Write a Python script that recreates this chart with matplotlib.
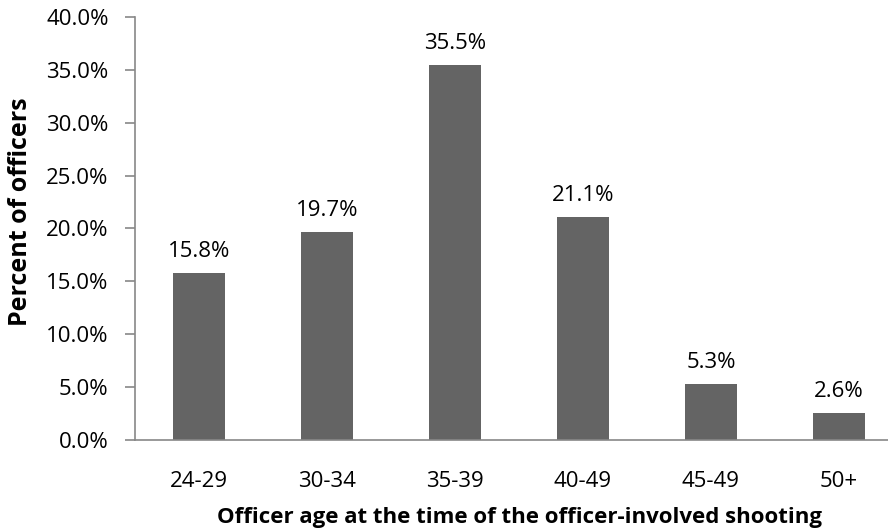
import matplotlib
matplotlib.use("Agg")
import matplotlib.pyplot as plt

age_groups = ["24-29", "30-34", "35-39", "40-49", "45-49", "50+"]
percent_officers = [15.8, 19.7, 35.5, 21.1, 5.3, 2.6]
y_ticks = [0, 5, 10, 15, 20, 25, 30, 35, 40]

plt.rcParams["font.family"] = ["Open Sans", "DejaVu Sans"]

fig = plt.figure(figsize=(8.88, 5.31), dpi=100)
# axes run a little past the right edge of the figure, like the original
ax = fig.add_axes([135 / 888, 91 / 531, 768 / 888, 423 / 531])

x = range(len(age_groups))
bars = ax.bar(x, percent_officers, width=0.406, color="#646464", zorder=2)
for b, v in zip(bars, percent_officers):
    ax.text(b.get_x() + b.get_width() / 2, v + 1.0, f"{v:.1f}%",
            ha="center", va="bottom", fontsize=16, color="black")

ax.set_xlim(-0.5, len(age_groups) - 0.5)
ax.set_ylim(0, 40)
ax.set_yticks(y_ticks)
ax.set_yticklabels([f"{t:.1f}%" for t in y_ticks], fontsize=16)
ax.set_xticks(list(x))
ax.set_xticklabels(age_groups, fontsize=16)
ax.tick_params(axis="x", length=0, pad=22)
ax.tick_params(axis="y", length=7, width=1.2, color="#888888", pad=12)

for side in ("top", "right"):
    ax.spines[side].set_visible(False)
for side in ("left", "bottom"):
    ax.spines[side].set_color("#888888")
    ax.spines[side].set_linewidth(1.2)

ax.set_xlabel("Officer age at the time of the officer-involved shooting",
              fontsize=16, fontweight="bold")
ax.set_ylabel("Percent of officers", fontsize=18, fontweight="bold")
ax.xaxis.set_label_coords(0.5, -0.158)
ax.yaxis.set_label_coords(-0.133, 0.54)

fig.savefig("out.png", dpi=100)
